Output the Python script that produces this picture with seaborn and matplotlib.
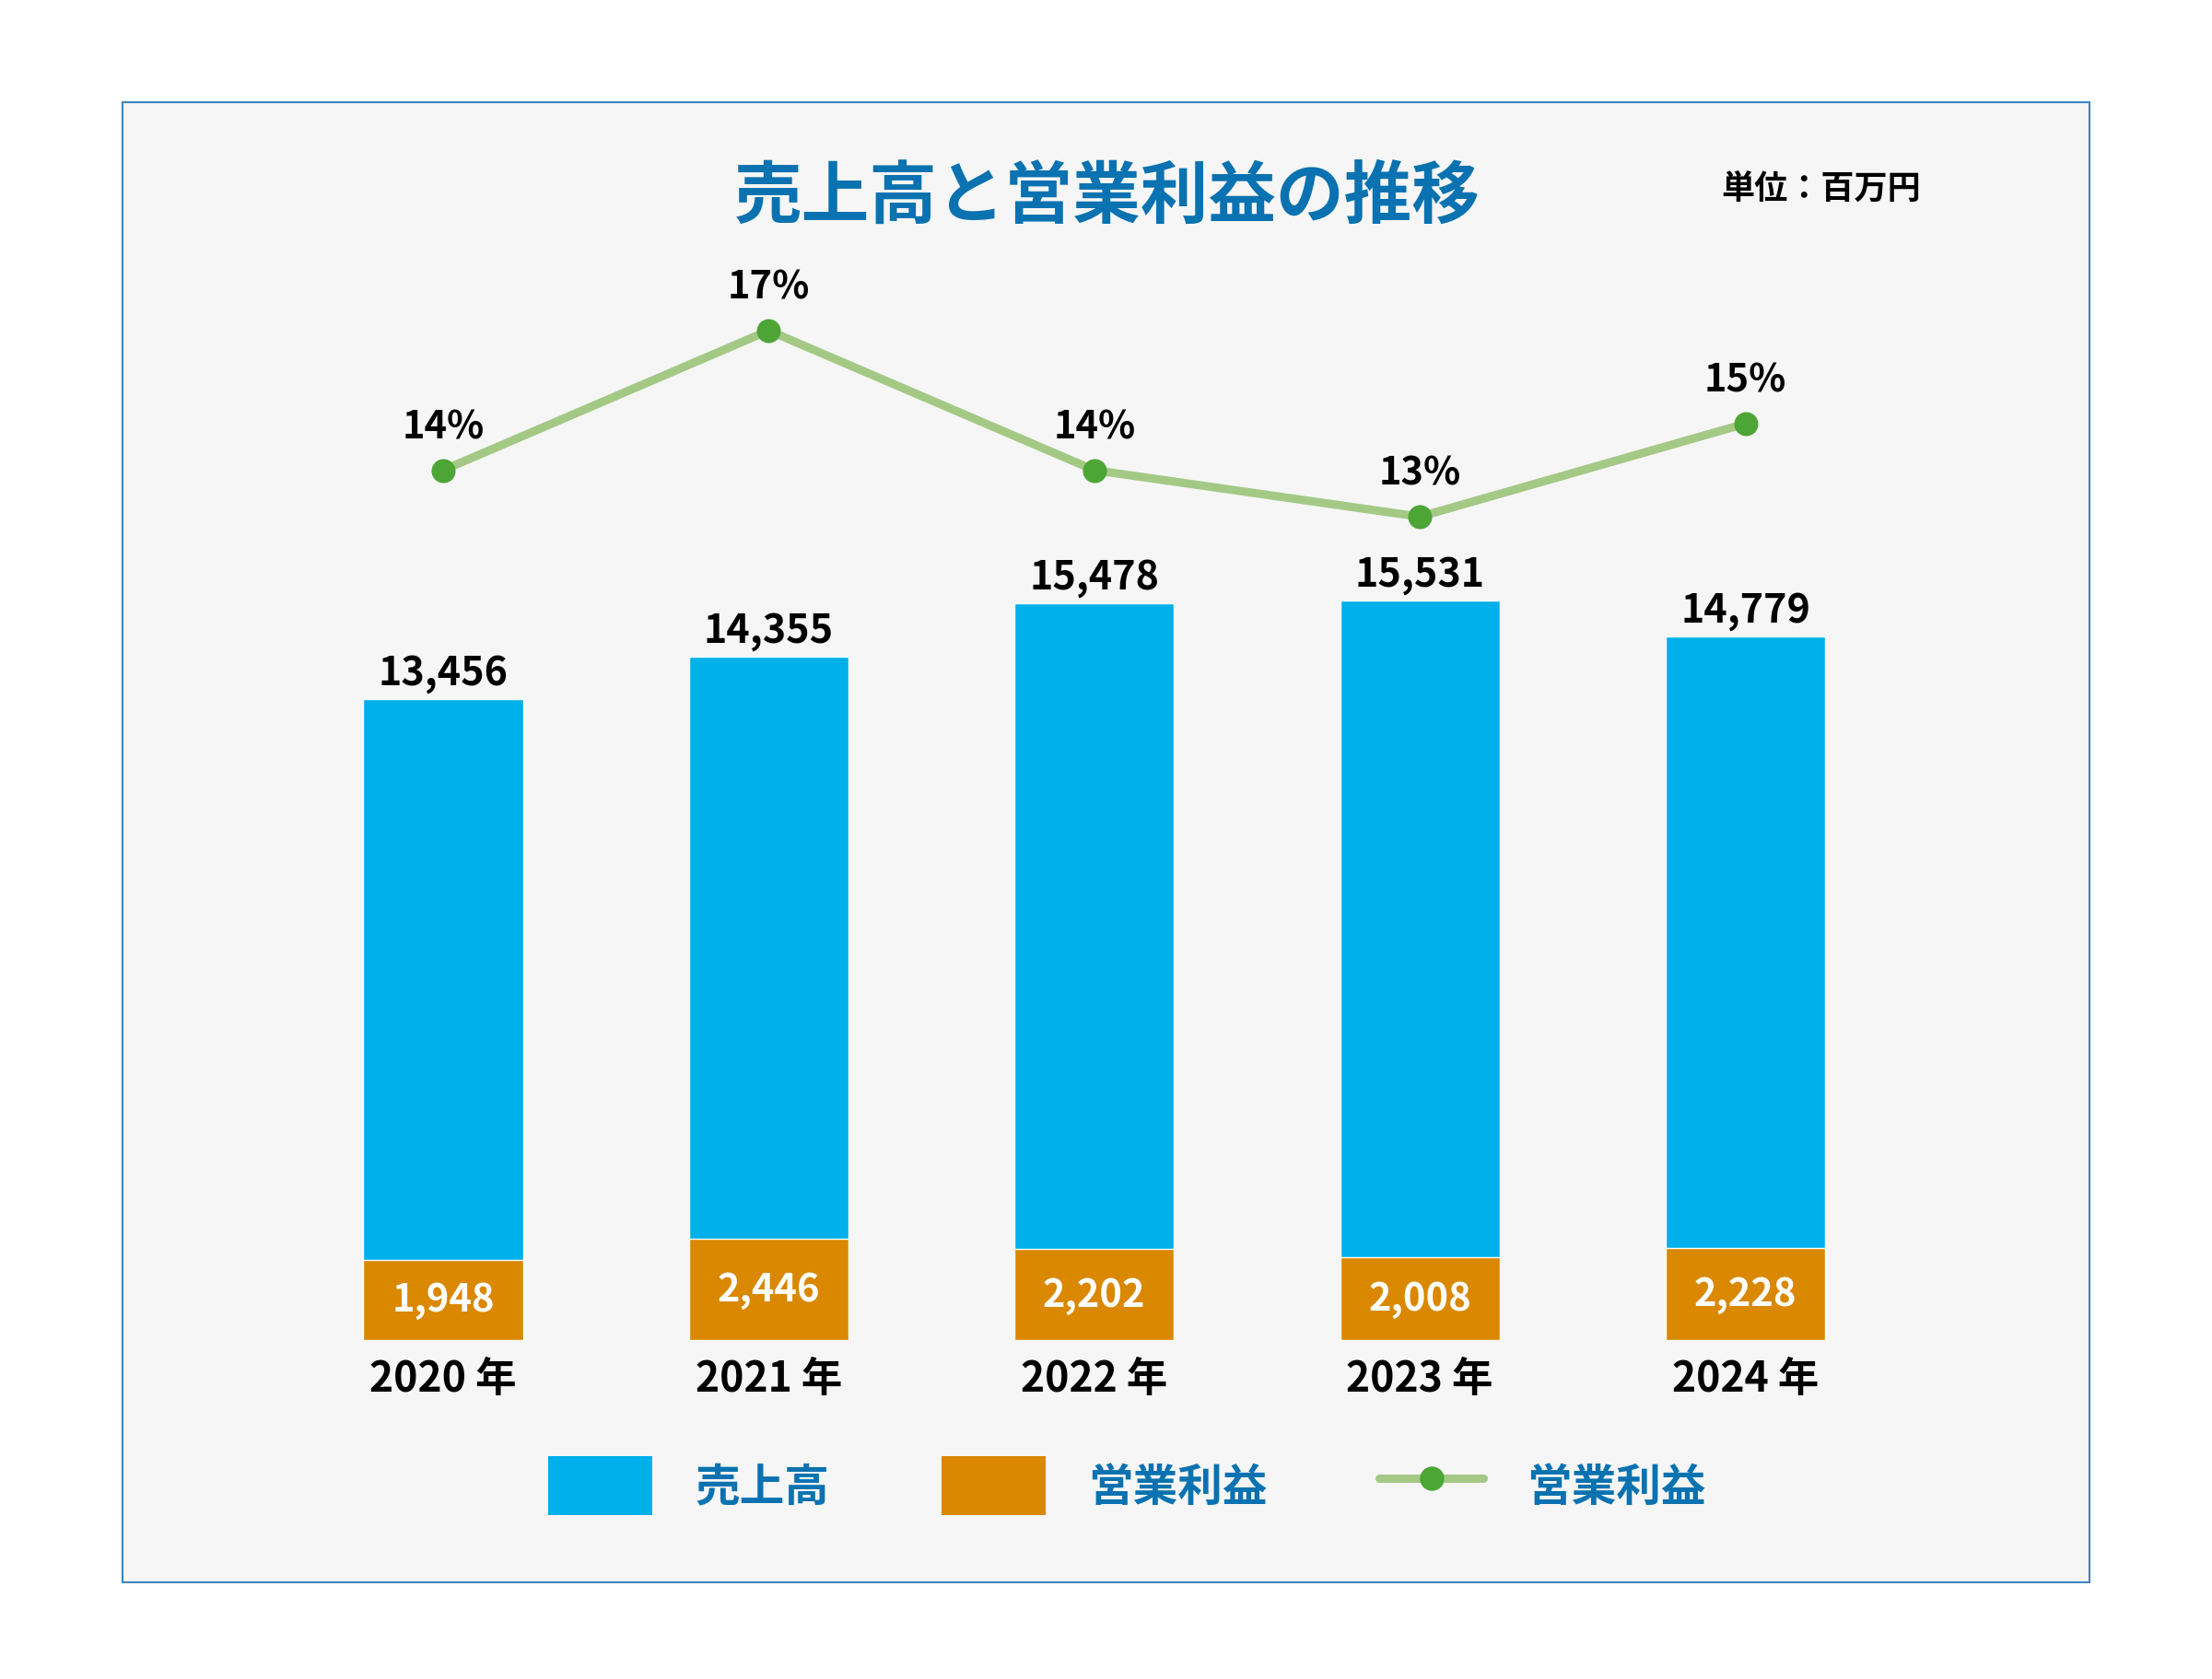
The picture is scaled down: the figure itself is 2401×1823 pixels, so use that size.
import numpy as np
import pandas as pd
import matplotlib
matplotlib.use("Agg")
import matplotlib.pyplot as plt
from matplotlib.patches import Rectangle, Patch
from matplotlib.lines import Line2D
import seaborn as sns

years = ["2020", "2021", "2022", "2023", "2024"]
sales = [13456, 14355, 15478, 15531, 14779]
profit = [1948, 2446, 2202, 2008, 2228]
margin = [14, 17, 14, 13, 15]
title = "売上高と営業利益の推移"
unit = "単位：百万円"
legend_labels = ["売上高", "営業利益", "営業利益"]

BLUE = "#00b0ea"
ORANGE = "#d98800"
LINE = "#a3c985"
DOT = "#4ca535"
TXT = "#0a72b0"

sns.set_theme(style="white")
plt.rcParams['font.family'] = ['Noto Sans CJK JP', 'DejaVu Sans']

df = pd.DataFrame({"year": years, "sales": sales, "profit": profit, "margin": margin})
W, H = 2401, 1824
fig = plt.figure(figsize=(W / 100, H / 100), dpi=100)
fig.patch.set_facecolor("white")

# panel
fig.add_artist(Rectangle((133 / W, 1 - 1719 / H), (2268 - 133) / W, (1719 - 112) / H,
                         transform=fig.transFigure, facecolor="#f6f6f6",
                         edgecolor="#3d85c0", linewidth=1.5, zorder=0))

# axes: base at y=1456px, top at 250px ; x center 0 at 481px, spacing 353.4px
step = 353.4
ax_left = (481 - step / 2) / W
ax_w = 5 * step / W
ax_bot = (H - 1456) / H
ax_h = (1456 - 250) / H
ax = fig.add_axes([ax_left, ax_bot, ax_w, ax_h])
ax.set_facecolor("none")

sns.barplot(data=df, x="year", y="sales", color=BLUE, width=0.49, saturation=1, ax=ax, zorder=2)
ax.set_xlim(-0.5, 4.5)
ax.set_ylim(0, 1206 / 0.0517)
ax.set_yticks([])
ax.set_xlabel("")
ax.set_ylabel("")
ax.set_xticks(range(len(years)))
ax.set_xticklabels([f"{y} 年" for y in years], fontsize=32, fontweight="bold", color="black")
ax.tick_params(axis="x", length=0, pad=14)
for s in ax.spines.values():
    s.set_visible(False)
for i, s in enumerate(sales):
    ax.annotate(f"{s:,}", (i, s), xytext=(0, 5), textcoords="offset points",
                ha="center", va="bottom", fontsize=31, fontweight="bold", color="black")

# operating profit bars on their own scale
ax3 = ax.twinx()
ax3.set_facecolor("none")
sns.barplot(data=df, x="year", y="profit", color=ORANGE, width=0.49, saturation=1, ax=ax3, zorder=3)
ax3.set_xlim(-0.5, 4.5)
ax3.set_ylim(0, 1206 / 0.04487)
ax3.set_yticks([])
ax3.set_ylabel("")
ax3.set_xlabel("")
for s in ax3.spines.values():
    s.set_visible(False)
for i, p in enumerate(profit):
    ax3.text(i, p / 2, f"{p:,}", ha="center", va="center", fontsize=30,
             fontweight="bold", color="white", zorder=5)

ax2 = ax.twinx()
ax2.set_facecolor("none")
sns.lineplot(x=np.arange(len(years)), y=margin, ax=ax2, color=LINE, linewidth=6.5,
             marker="o", markersize=18, markerfacecolor=DOT, markeredgecolor=DOT, zorder=4)
ax2.set_xlim(-0.5, 4.5)
ax2.set_ylim(14 - 944.5 / 50.53, 14 - 944.5 / 50.53 + 1206 / 50.53)
ax2.set_yticks([])
ax2.set_ylabel("")
for s in ax2.spines.values():
    s.set_visible(False)
for i, m in enumerate(margin):
    ax2.annotate(f"{m}%", (i, m), xytext=(0, 19), textcoords="offset points",
                 ha="center", va="bottom", fontsize=30, fontweight="bold", color="black")

fig.text(1202 / W, 1 - 214 / H, title, ha="center", va="center", fontsize=53,
         fontweight="bold", color=TXT)
fig.text(1977 / W, 1 - 205 / H, unit, ha="center", va="center", fontsize=26,
         fontweight="bold", color="black")

handles = [Patch(facecolor=BLUE, edgecolor="none"),
           Patch(facecolor=ORANGE, edgecolor="none"),
           Line2D([], [], color=LINE, linewidth=6.5, marker="o", markersize=18,
                  markerfacecolor=DOT, markeredgecolor=DOT)]
leg = fig.legend(handles, legend_labels, loc="center", bbox_to_anchor=(1223 / W, 1 - 1614 / H),
                 ncol=3, frameon=False, handlelength=2.33, handleheight=1.68,
                 handletextpad=0.95, columnspacing=2.5,
                 prop={"weight": "bold", "size": 35})
for t in leg.get_texts():
    t.set_color(TXT)

fig.savefig("out.png", dpi=100)
